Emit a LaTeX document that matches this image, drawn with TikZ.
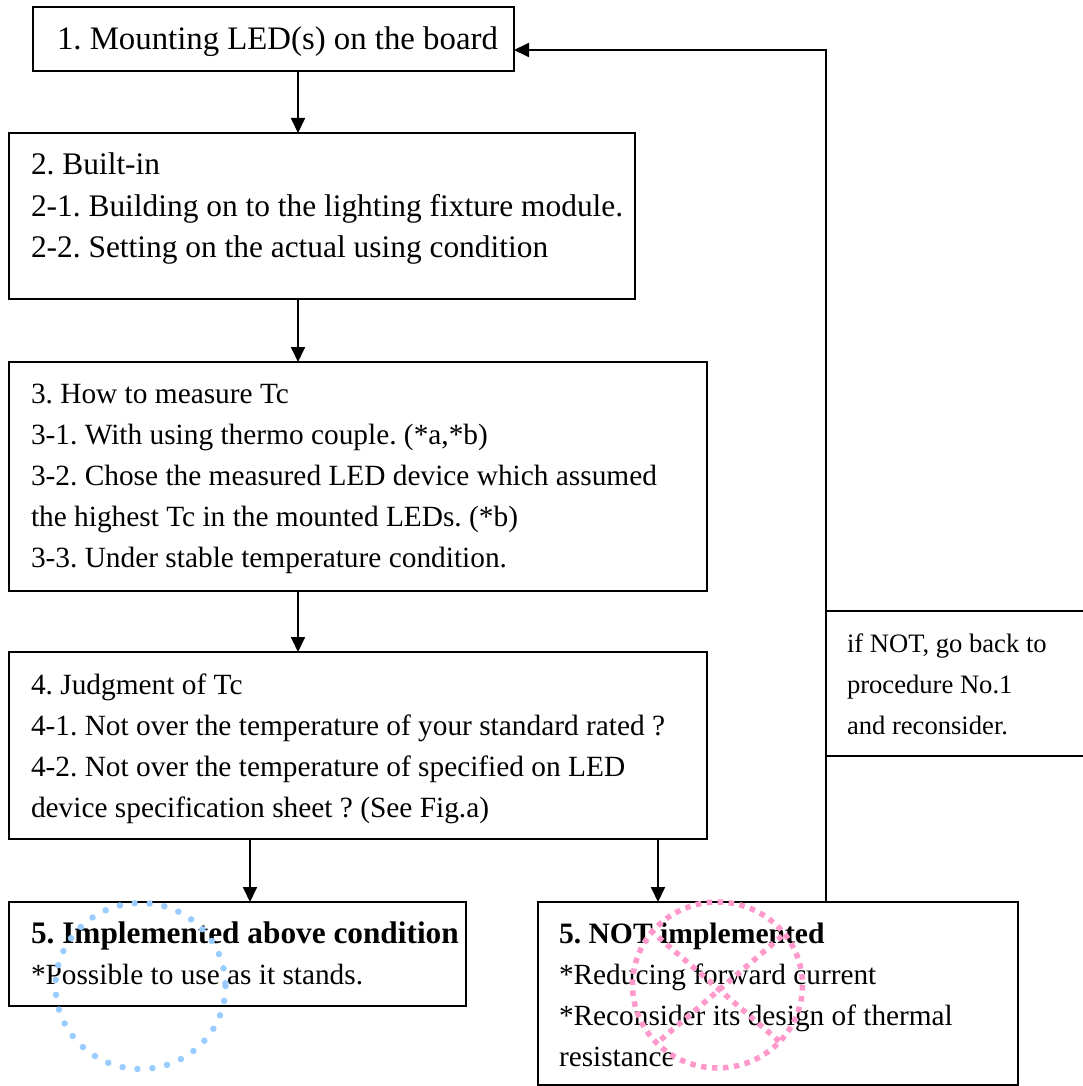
\documentclass[tikz,border=0pt]{standalone}
\usepackage{fontspec}
\setmainfont{Liberation Serif}
\usetikzlibrary{arrows.meta,fit}
\definecolor{dotblue}{RGB}{153,204,255}
\definecolor{dotpink}{RGB}{255,153,204}
\tikzset{
  box/.style={draw=black, line width=1.8pt, inner sep=0pt, outer sep=0pt, rectangle},
  txt/.style={inner sep=0pt, outer sep=0pt, anchor=base west, font=\fontsize{29.35pt}{41pt}\selectfont},
  txtA/.style={txt, font=\fontsize{32.8pt}{41pt}\selectfont},
  txtB/.style={txt, font=\fontsize{31.4pt}{41pt}\selectfont},
  txtC/.style={txt, font=\fontsize{29.3pt}{41pt}\selectfont},
  notetxt/.style={inner sep=0pt, outer sep=0pt, anchor=base west, font=\fontsize{26.6pt}{34pt}\selectfont},
  arr/.style={line width=1.8pt, -{Triangle[length=15pt,width=14pt]}},
  okmark/.style={draw=dotblue, line width=6.5pt, line cap=round, dash pattern=on 0pt off 15pt},
  ngmark/.style={draw=dotpink, line width=5.5pt, dash pattern=on 5.5pt off 5.5pt},
}
\begin{document}
\frenchspacing
\begin{tikzpicture}[x=1pt,y=-1pt]
\useasboundingbox[fill=white] (0,0) rectangle (1082,1086);
% boxes
\node[box, fit={(33,7) (514,71)}] (b1) {};
\node[box, fit={(9,133) (635,299)}] (b2) {};
\node[box, fit={(9,362) (707,591)}] (b3) {};
\node[box, fit={(9,652) (707,839)}] (b4) {};
\node[box, fit={(9,902) (466,1006)}] (b5a) {};
\node[box, fit={(538,902) (1018,1085)}] (b5b) {};
\node[box, fit={(826,611) (1100,756)}] (note) {};
% texts
\node[txtA] (t1) at (57,50) {1. Mounting LED(s) on the board};
\node[txtB] (t2a) at (31,175) {2. Built-in};
\node[txtB] (t2b) at (31,216) {2-1. Building on to the lighting fixture module.};
\node[txtB] (t2c) at (31,257) {2-2. Setting on the actual using condition};
\node[txt] (t3a) at (31,403) {3. How to measure Tc};
\node[txt] (t3b) at (31,444) {3-1. With using thermo couple. (*a,*b)};
\node[txt] (t3c) at (31,485) {3-2. Chose the measured LED device which assumed};
\node[txt] (t3d) at (31,526) {the highest Tc in the mounted LEDs. (*b)};
\node[txt] (t3e) at (31,567) {3-3. Under stable temperature condition.};
\node[txt] (t4a) at (31,694) {4. Judgment of Tc};
\node[txt] (t4b) at (31,735) {4-1. Not over the temperature of your standard rated ?};
\node[txt] (t4c) at (31,776) {4-2. Not over the temperature of specified on LED};
\node[txt] (t4d) at (31,817) {device specification sheet ? (See Fig.a)};
\node[txt, font=\fontsize{31.3pt}{41pt}\selectfont\bfseries] (t5a1) at (31,943) {5. Implemented above condition};
\node[txtC] (t5a2) at (31,984) {*Possible to use as it stands.};
\node[txt, font=\fontsize{29.6pt}{41pt}\selectfont\bfseries] (t5b1) at (559,943) {5. NOT implemented};
\node[txtC] (t5b2) at (559,984) {*Reducing forward current};
\node[txtC] (t5b3) at (559,1025) {*Reconsider its design of thermal};
\node[txtC] (t5b4) at (559,1066) {resistance};
\node[notetxt] (n1) at (847,652) {if NOT, go back to};
\node[notetxt] (n2) at (847,693) {procedure No.1};
\node[notetxt] (n3) at (847,734) {and reconsider.};
% connectors
\coordinate (ax) at (298,0);
\coordinate (al) at (250,0);
\coordinate (ar) at (658,0);
\coordinate (fb) at (826,50);
\draw[arr] (b1.south -| ax) -- (b2.north -| ax);
\draw[arr] (b2.south -| ax) -- (b3.north -| ax);
\draw[arr] (b3.south -| ax) -- (b4.north -| ax);
\draw[arr] (b4.south -| al) -- (b5a.north -| al);
\draw[arr] (b4.south -| ar) -- (b5b.north -| ar);
\draw[arr] (b5b.north -| fb) -- (fb) -- (b1.east |- fb);
% marks
\draw[okmark] (140.5,986) ellipse [x radius=85, y radius=83];
\draw[ngmark] (717.5,985) ellipse [x radius=85, y radius=83];
\draw[ngmark] (650,930) -- (780,1042);
\draw[ngmark] (782,936) -- (657,1043);
\end{tikzpicture}
\end{document}
